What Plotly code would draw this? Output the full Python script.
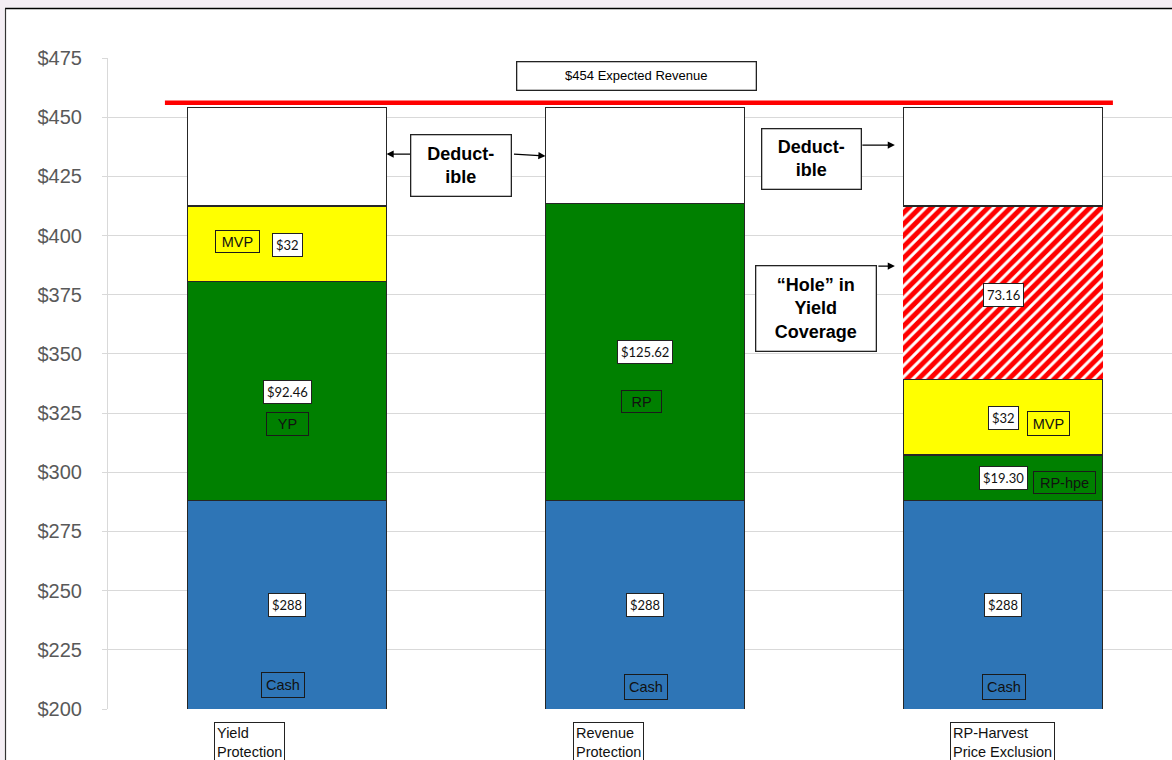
import plotly.graph_objects as go

# ---- data ----
categories = ["Yield\nProtection", "Revenue\nProtection", "RP-Harvest\nPrice Exclusion"]
bar_pos = [0, 1, 2]
cash = [288, 288, 288]
coverage = [92.46, 125.62, 19.30]
coverage_names = ["YP", "RP", "RP-hpe"]
coverage_labels = ["$92.46", "$125.62", "$19.30"]
mvp = [32, None, 32]
mvp_labels = ["$32", None, "$32"]
hole = [None, None, 73.16]
hole_labels = [None, None, "73.16"]
deductible = [41.54, 40.38, 41.54]
expected_revenue = 454
y_ticks = [200, 225, 250, 275, 300, 325, 350, 375, 400, 425, 450, 475]
y_tick_text = ["$200", "$225", "$250", "$275", "$300", "$325", "$350", "$375",
               "$400", "$425", "$450", "$475"]

W, H = 1172, 760
M_L, M_R, M_T, M_B = 108, 0, 58, 51
BAR_W = 0.556
OUTLINE = dict(color="#262626", width=1.3)
ARIAL = "Liberation Sans, Arial, sans-serif"
CALIBRI = "Lato, Carlito, Calibri, sans-serif"

fig = go.Figure()
fig.add_bar(x=bar_pos, y=cash, width=BAR_W, name="Cash",
            marker=dict(color="#2E75B6", line=OUTLINE))
fig.add_bar(x=bar_pos, y=coverage, width=BAR_W, name="Coverage",
            marker=dict(color="#008000", line=OUTLINE))
fig.add_bar(x=bar_pos, y=mvp, width=BAR_W, name="MVP",
            marker=dict(color="#FFFF00", line=OUTLINE))
fig.add_bar(x=bar_pos, y=hole, width=BAR_W, name="Hole",
            marker=dict(color="white", line=dict(width=0),
                        pattern=dict(shape="/", fgcolor="#FF0000", bgcolor="white",
                                     size=8, solidity=0.62, fgopacity=1)))
fig.add_bar(x=bar_pos, y=deductible, width=BAR_W, name="Deductible",
            marker=dict(color="white", line=OUTLINE))

ann = []


def value_box(x, y, text):
    ann.append(dict(x=x, y=y, xref="x", yref="y", text=text, showarrow=False,
                    font=dict(family=CALIBRI, size=13, color="#111"),
                    bgcolor="white", bordercolor="#222", borderwidth=1, borderpad=3))


def name_box(x, y, text, w, h):
    ann.append(dict(x=x, y=y, xref="x", yref="y", text=text, showarrow=False,
                    font=dict(family=ARIAL, size=14.5, color="#111"),
                    width=w, height=h, bgcolor="rgba(0,0,0,0)",
                    bordercolor="#1a1a1a", borderwidth=1, borderpad=1))


def callout(x, y, text, w, h):
    ann.append(dict(x=x, y=y, xref="x", yref="y", text=text, showarrow=False,
                    font=dict(family=ARIAL, size=18, color="black"),
                    width=w, height=h, bgcolor="white",
                    bordercolor="#222", borderwidth=1.3, borderpad=1))


def arrow(x, y, ax, ay):
    ann.append(dict(x=x, y=y, xref="x", yref="y", ax=ax, ay=ay, text="",
                    showarrow=True, arrowhead=2, arrowsize=1.1, arrowwidth=1.3,
                    arrowcolor="black", standoff=0, startstandoff=0))


# labels inside the bars
for i in bar_pos:
    value_box(i, 244, f"${cash[i]}")
    name_box(i + 0.003 if i else i - 0.01, 210 if i == 0 else 209.3, "Cash", 40, 22)

value_box(0, 334, coverage_labels[0])
name_box(0, 320.4, coverage_names[0], 39, 20)
name_box(-0.137, 397.3, "MVP", 41, 19)
value_box(0, 396, mvp_labels[0])

value_box(1, 351, coverage_labels[1])
name_box(0.99, 330.1, coverage_names[1], 37, 19)

value_box(2, 375, hole_labels[2])
value_box(2, 322.9, mvp_labels[2])
name_box(2.126, 320.8, "MVP", 39, 21)
value_box(2, 297.6, coverage_labels[2])
name_box(2.173, 295.7, coverage_names[2], 59, 19)

# expected revenue label
ann.append(dict(x=0.975, y=467.6, xref="x", yref="y",
                text=f"${expected_revenue} Expected Revenue", showarrow=False,
                font=dict(family=ARIAL, size=13, color="black"),
                width=236, height=25, bgcolor="white",
                bordercolor="#222", borderwidth=1.3, borderpad=1))

# callouts and their arrows
callout(0.487, 429.4, "<b>Deduct-<br>ible</b>", 97, 58)
arrow(0.278, 434.4, 25, 0)
arrow(0.722, 433.6, -33, -2)

callout(1.464, 432.5, "<b>Deduct-<br>ible</b>", 96, 57)
arrow(1.698, 438.2, -34, 0)

callout(1.479, 369.0, "<b>“Hole” in<br>Yield<br>Coverage</b>", 117, 82)
arrow(1.698, 387.1, -18, 0)

# category labels under the bars
cat_left = [-0.204, 0.799, 1.852]
for xl, name in zip(cat_left, categories):
    ann.append(dict(x=xl, y=-13 / 651, xref="x", yref="paper", xanchor="left",
                    yanchor="top", text=name.replace("\n", "<br>"), align="left",
                    showarrow=False,
                    font=dict(family=ARIAL, size=14.5, color="#111"),
                    bgcolor="white", bordercolor="#222", borderwidth=1,
                    borderpad=2))

# slide frame: dotted-looking border strips and black frame lines
px_x = lambda p: (p - M_L) / (W - M_L - M_R)
px_y = lambda p: (H - M_B - p) / (H - M_T - M_B)
shapes = [
    dict(type="rect", xref="paper", yref="paper", x0=px_x(0), x1=px_x(W),
         y0=px_y(7.5), y1=px_y(0), fillcolor="#f4eef4", line=dict(width=0),
         layer="below"),
    dict(type="rect", xref="paper", yref="paper", x0=px_x(0), x1=px_x(4.5),
         y0=px_y(H), y1=px_y(0), fillcolor="#f4eef4", line=dict(width=0),
         layer="below"),
    dict(type="line", xref="paper", yref="paper", x0=px_x(5), x1=px_x(W),
         y0=px_y(8.5), y1=px_y(8.5), line=dict(color="black", width=1.6)),
    dict(type="line", xref="paper", yref="paper", x0=px_x(5.5), x1=px_x(5.5),
         y0=px_y(H), y1=px_y(8.5), line=dict(color="#333", width=1.2)),
    # expected revenue line, drawn just above the bar tops
    dict(type="line", xref="x", yref="y", x0=-0.341, x1=2.307,
         ysizemode="pixel", yanchor=expected_revenue, y0=5, y1=5,
         line=dict(color="#FF0000", width=4.5)),
]

fig.update_layout(
    width=W, height=H, barmode="stack", showlegend=False,
    margin=dict(l=M_L, r=M_R, t=M_T, b=M_B, pad=0),
    paper_bgcolor="white", plot_bgcolor="white",
    annotations=ann, shapes=shapes,
    xaxis=dict(range=[-0.5, -0.5 + (W - M_L - M_R) / 358], showticklabels=False,
               showgrid=False, zeroline=False, showline=False, fixedrange=True),
    yaxis=dict(range=[200, 475], tickmode="array", tickvals=y_ticks,
               ticktext=y_tick_text,
               showgrid=True, gridcolor="#d9d9d9", gridwidth=1,
               showline=True, linecolor="#d9d9d9", linewidth=1,
               ticks="outside", ticklen=5, tickcolor="#d9d9d9",
               ticklabelstandoff=16, zeroline=False,
               tickfont=dict(family=ARIAL, size=20, color="#595959")),
)

fig.write_html("out.html")
